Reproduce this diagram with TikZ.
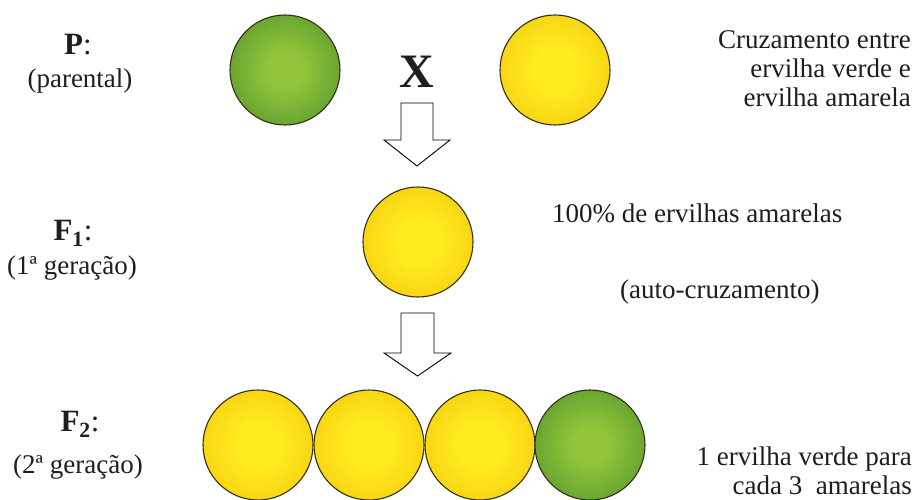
\documentclass[tikz,border=0pt]{standalone}
\usepackage{fontspec}
\setmainfont{LiberationSerif}[Extension=.ttf, UprightFont=*-Regular, BoldFont=*-Bold, ItalicFont=*-Italic, BoldItalicFont=*-BoldItalic]
\definecolor{txt}{RGB}{30,30,30}
\definecolor{gIn}{RGB}{145,198,58}
\definecolor{gOut}{RGB}{48,118,36}
\definecolor{yIn}{RGB}{255,236,30}
\definecolor{yOut}{RGB}{236,176,4}
\definecolor{rim}{RGB}{55,50,20}
\pgfdeclareradialshading{greenshade}{\pgfpoint{0bp}{0bp}}{color(0bp)=(gIn); color(8bp)=(gIn); color(50bp)=(gOut)}
\pgfdeclareradialshading{yellowshade}{\pgfpoint{0bp}{0bp}}{color(0bp)=(yIn); color(10bp)=(yIn); color(50bp)=(yOut)}
\begin{document}
\begin{tikzpicture}[x=1pt,y=-1pt,
  pea/.style={circle, minimum size=110pt, inner sep=0pt, draw=rim, line width=1.1pt},
  greenpea/.style={pea, shading=greenshade},
  yellowpea/.style={pea, shading=yellowshade},
  lbl/.style={text=txt, font=\fontsize{31}{34}\selectfont, inner sep=0pt},
  sub/.style={text=txt, font=\fontsize{27}{30}\selectfont, inner sep=0pt},
  note/.style={text=txt, font=\fontsize{27}{29}\selectfont, inner sep=0pt, align=right},
  blockarrow/.style={draw=black, fill=white, line width=0.9pt, line join=miter}
]
\useasboundingbox[fill=white] (0,0) rectangle (915,500);

% P generation
\node[lbl] (plbl) at (78,45) {\textbf{P}:};
\node[sub] (psub) at (80,81) {(parental)};
\node[greenpea] (pg) at (285,70) {};
\node[yellowpea] (py) at (555,70) {};
\node[text=txt, font=\bfseries\fontsize{48}{50}\selectfont, inner sep=0pt] (cross) at (417,72) {X};
\node[note, anchor=north east] (crossnote) at (911,30) {Cruzamento entre\\ervilha verde e\\ervilha amarela};

% arrow 1
\draw[blockarrow] (401,103) -- (433,103) -- (433,140) -- (450,140) -- (417,166) -- (384,140) -- (401,140) -- cycle;

% F1
\node[lbl] (f1lbl) at (73,233) {\textbf{F\textsubscript{1}}:};
\node[sub] (f1sub) at (72,268) {(1ª geração)};
\node[yellowpea] (f1) at (418,242) {};
\node[note, anchor=west] (f1note) at (552,213) {100\% de ervilhas amarelas};
\node[note, anchor=west] (self) at (620,292) {(auto-cruzamento)};

% arrow 2
\draw[blockarrow] (401,313) -- (434,313) -- (434,353) -- (451,353) -- (417.5,376) -- (384,353) -- (401,353) -- cycle;

% F2
\node[lbl] (f2lbl) at (80,424) {\textbf{F\textsubscript{2}}:};
\node[sub] (f2sub) at (78,467) {(2ª geração)};
\node[yellowpea] (f2a) at (258,445) {};
\node[yellowpea] (f2b) at (369,445) {};
\node[yellowpea] (f2c) at (480,445) {};
\node[greenpea] (f2d) at (590,445) {};
\node[note, anchor=east] (f2note) at (912,471) {1 ervilha verde para\\cada 3~ amarelas};
\end{tikzpicture}
\end{document}
